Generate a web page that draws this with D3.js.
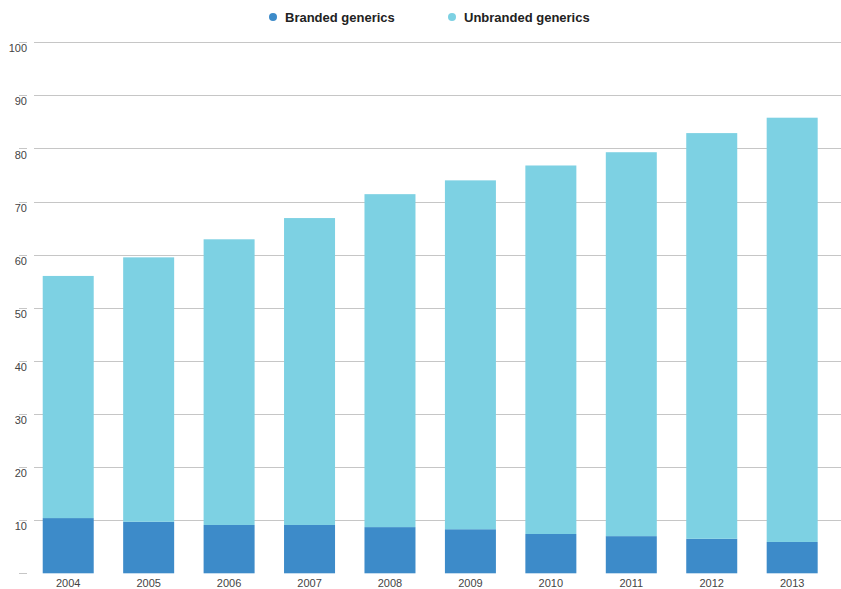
<!DOCTYPE html>
<html>
<head>
<meta charset="utf-8">
<script src="https://cdn.jsdelivr.net/npm/d3@7"></script>
<style>
  body { margin: 0; background: #fff; }
  svg { display: block; font-family: "Liberation Sans", Arial, Helvetica, sans-serif; }
</style>
</head>
<body>
<svg id="chart"></svg>
<script>
const years = ['2004', '2005', '2006', '2007', '2008', '2009', '2010', '2011', '2012', '2013'];
const branded = [10.4, 9.7, 9.1, 9.1, 8.7, 8.3, 7.4, 7.0, 6.5, 5.9];
const unbranded = [45.6, 49.8, 53.8, 57.8, 62.7, 65.7, 69.4, 72.3, 76.4, 79.9];
const yTicks = [0, 10, 20, 30, 40, 50, 60, 70, 80, 90, 100];
const seriesNames = ['Branded generics', 'Unbranded generics'];
const colors = ['#3d8bc9', '#7dd1e3'];

const width = 841, height = 589;
const svg = d3.select('#chart').attr('width', width).attr('height', height);

const table = years.map((y, i) => ({ year: y, 'Branded generics': branded[i], 'Unbranded generics': unbranded[i] }));

const x = d3.scaleBand()
    .domain(years)
    .range([28, 832.4])
    .paddingInner(0.366)
    .paddingOuter(0.183);

const y = d3.scaleLinear()
    .domain([0, 100])
    .range([573.3, 42.3]);

// gridlines
svg.append('g')
    .selectAll('line')
    .data(yTicks.filter(d => d > 0))
    .join('line')
      .attr('x1', 34)
      .attr('x2', width)
      .attr('y1', d => Math.round(y(d)) + 0.5)
      .attr('y2', d => Math.round(y(d)) + 0.5)
      .attr('stroke', '#c6c6c6')
      .attr('stroke-width', 1);

// y axis: short ticks with labels just underneath
const yAxis = svg.append('g');
yAxis.selectAll('line')
    .data(yTicks)
    .join('line')
      .attr('x1', 19)
      .attr('x2', 27)
      .attr('y1', d => Math.round(y(d)) + 0.5)
      .attr('y2', d => Math.round(y(d)) + 0.5)
      .attr('stroke', '#c6c6c6');
yAxis.selectAll('text')
    .data(yTicks.filter(d => d > 0))
    .join('text')
      .attr('x', 27)
      .attr('y', d => y(d) + 10)
      .attr('text-anchor', 'end')
      .attr('font-size', 11)
      .attr('fill', '#444')
      .text(d => d);

// stacked bars
const series = d3.stack().keys(seriesNames)(table);
svg.append('g')
    .selectAll('g')
    .data(series)
    .join('g')
      .attr('fill', (d, i) => colors[i])
    .selectAll('rect')
    .data(d => d)
    .join('rect')
      .attr('x', d => x(d.data.year))
      .attr('width', x.bandwidth())
      .attr('y', d => y(d[1]))
      .attr('height', d => y(d[0]) - y(d[1]));

// x axis labels
svg.append('g')
    .selectAll('text')
    .data(years)
    .join('text')
      .attr('x', d => x(d) + x.bandwidth() / 2)
      .attr('y', 587)
      .attr('text-anchor', 'middle')
      .attr('font-size', 11)
      .attr('fill', '#444')
      .text(d => d);

// legend
const legendX = [273, 452];
const legend = svg.append('g')
    .selectAll('g')
    .data(seriesNames)
    .join('g')
      .attr('transform', (d, i) => `translate(${legendX[i]},17)`);
legend.append('circle')
    .attr('r', 4)
    .attr('fill', (d, i) => colors[i]);
legend.append('text')
    .attr('x', 12)
    .attr('y', 5)
    .attr('font-size', 13)
    .attr('font-weight', 'bold')
    .attr('fill', '#222')
    .text(d => d);
</script>
</body>
</html>
